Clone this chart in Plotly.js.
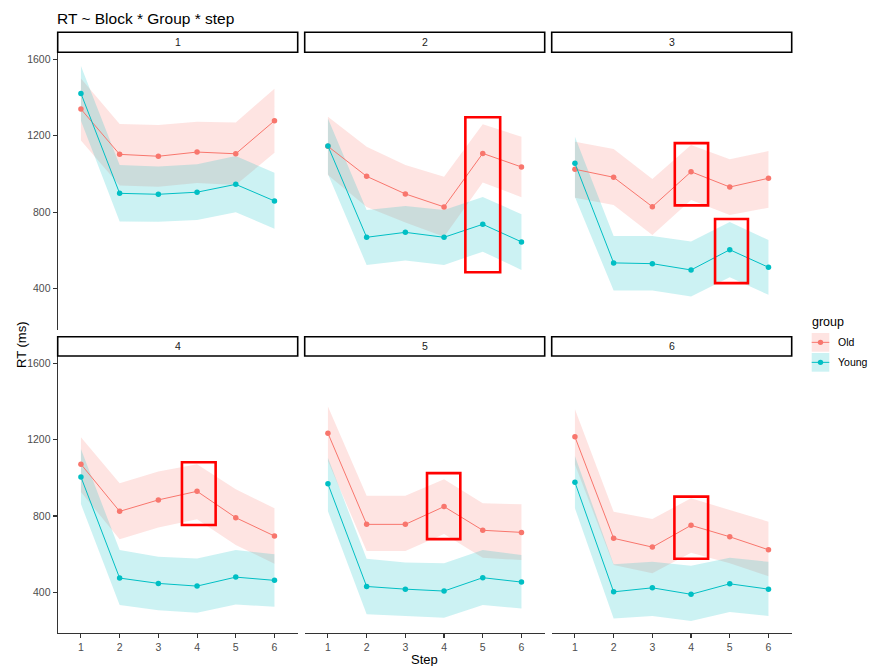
<!DOCTYPE html>
<html>
<head>
<meta charset="utf-8">
<script src="https://cdn.plot.ly/plotly-3.0.1.min.js"></script>
<style>
html,body{margin:0;padding:0;background:#fff;}
#chart{width:869px;height:666px;}
</style>
</head>
<body>
<div id="chart"></div>
<script>
// ---- data ----
const steps = [1, 2, 3, 4, 5, 6];
const stepLabels = ['1', '2', '3', '4', '5', '6'];
const blocks = ['1', '2', '3', '4', '5', '6'];
const groups = ['Old', 'Young'];

const oldMean = [
  [1340, 1103, 1093, 1115, 1106, 1279],
  [1145, 988, 896, 828, 1108, 1037],
  [1025, 983, 829, 1012, 932, 978],
  [1071, 824, 884, 929, 791, 695],
  [1233, 756, 756, 849, 725, 714],
  [1214, 683, 637, 751, 691, 623]
];
const oldLo = [
  [1175, 940, 933, 953, 942, 1112],
  [995, 828, 746, 672, 956, 879],
  [876, 838, 681, 864, 786, 824],
  [925, 678, 739, 783, 648, 550],
  [1088, 616, 616, 706, 581, 569],
  [1069, 543, 500, 608, 552, 485]
];
const oldHi = [
  [1500, 1262, 1256, 1274, 1270, 1446],
  [1300, 1143, 1047, 986, 1260, 1195],
  [1169, 1131, 974, 1152, 1077, 1120],
  [1212, 971, 1032, 1071, 940, 840],
  [1373, 906, 906, 992, 866, 861],
  [1359, 822, 784, 893, 831, 770]
];
const youngMean = [
  [1422, 899, 894, 905, 946, 859],
  [1147, 669, 695, 669, 737, 645],
  [1056, 535, 531, 498, 604, 512],
  [1004, 475, 447, 433, 480, 463],
  [968, 431, 417, 407, 477, 454],
  [976, 403, 424, 390, 445, 417]
];
const youngLo = [
  [1279, 751, 750, 760, 800, 714],
  [1000, 524, 547, 524, 594, 498],
  [880, 390, 390, 359, 460, 368],
  [862, 334, 307, 293, 337, 325],
  [825, 286, 276, 267, 334, 316],
  [840, 264, 277, 250, 298, 277]
];
const youngHi = [
  [1565, 1047, 1040, 1051, 1094, 1007],
  [1291, 812, 833, 812, 880, 790],
  [1195, 676, 676, 647, 749, 655],
  [1150, 622, 587, 578, 622, 600],
  [1105, 576, 557, 552, 622, 596],
  [1114, 547, 560, 539, 581, 560]
];
// highlighted regions (block index, step span, RT span)
const hlBlock = [2, 3, 3, 4, 5, 6];
const hlStep0 = [4.55, 3.58, 4.62, 3.61, 3.56, 3.57];
const hlStep1 = [5.45, 4.44, 5.47, 4.48, 4.42, 4.44];
const hlRT0 = [486, 836, 429, 753, 679, 576];
const hlRT1 = [1297, 1162, 765, 1081, 1024, 901];

// ---- styling ----
const FONT = 'Liberation Sans, Arial, sans-serif';
const colors = {Old: '#F8766D', Young: '#00BFC4'};
const fills = {Old: 'rgba(248,118,109,0.2)', Young: 'rgba(0,191,196,0.2)'};
const W = 869, H = 666;
const colPx = [[57.7, 297.7], [304.7, 544.7], [551.7, 791.7]];
const rowPx = [[52.3, 329.6], [356, 633.3]];
const stripPx = [[32.3, 52.3], [336.7, 356]];

const series = {
  Old: {mean: oldMean, lo: oldLo, hi: oldHi},
  Young: {mean: youngMean, lo: youngLo, hi: youngHi}
};

const traces = [];
blocks.forEach((b, i) => {
  const ax = i === 0 ? '' : String(i + 1);
  groups.forEach(g => {
    const s = series[g];
    traces.push({
      x: steps.concat(steps.slice().reverse()),
      y: s.hi[i].concat(s.lo[i].slice().reverse()),
      xaxis: 'x' + ax, yaxis: 'y' + ax,
      type: 'scatter', mode: 'lines', fill: 'toself',
      fillcolor: fills[g], line: {width: 0, color: 'rgba(0,0,0,0)'},
      hoverinfo: 'skip', showlegend: false
    });
  });
  groups.forEach(g => {
    const s = series[g];
    traces.push({
      x: steps, y: s.mean[i],
      xaxis: 'x' + ax, yaxis: 'y' + ax,
      type: 'scatter', mode: 'lines+markers', name: g,
      line: {color: colors[g], width: 1},
      marker: {color: colors[g], size: 5.5},
      showlegend: false
    });
  });
});

const layout = {
  width: W, height: H,
  margin: {l: 0, r: 0, t: 0, b: 0},
  paper_bgcolor: '#fff', plot_bgcolor: 'rgba(0,0,0,0)',
  font: {family: FONT, color: '#000'},
  showlegend: false,
  title: {text: 'RT ~ Block * Group * step', x: 57 / W, xanchor: 'left', xref: 'paper',
          y: 1 - 18.5 / H, yanchor: 'middle', yref: 'paper', font: {size: 15.5, family: FONT, color: '#000'}},
  shapes: [],
  annotations: []
};

blocks.forEach((b, i) => {
  const ax = i === 0 ? '' : String(i + 1);
  const col = i % 3, row = Math.floor(i / 3);
  const xd = [colPx[col][0] / W, colPx[col][1] / W];
  const yd = [1 - rowPx[row][1] / H, 1 - rowPx[row][0] / H];
  const bottom = row === 1, left = col === 0;
  layout['xaxis' + ax] = {
    domain: xd, anchor: 'y' + ax, range: [0.4, 6.6],
    tickvals: steps, ticktext: stepLabels,
    showgrid: false, zeroline: false,
    showline: bottom, linecolor: '#333', linewidth: 1.1,
    ticks: bottom ? 'outside' : '', ticklen: 4, tickwidth: 1.1, tickcolor: '#333',
    showticklabels: bottom, tickfont: {size: 10.5, color: '#4D4D4D', family: FONT}
  };
  layout['yaxis' + ax] = {
    domain: yd, anchor: 'x' + ax, range: [186, 1637],
    tickvals: [400, 800, 1200, 1600],
    showgrid: false, zeroline: false,
    showline: left, linecolor: '#333', linewidth: 1.1,
    ticks: left ? 'outside' : '', ticklen: 4, tickwidth: 1.1, tickcolor: '#333',
    showticklabels: left, tickfont: {size: 10.5, color: '#4D4D4D', family: FONT}
  };
  // strip
  layout.shapes.push({
    type: 'rect', xref: 'paper', yref: 'paper',
    x0: xd[0], x1: xd[1], y0: 1 - stripPx[row][1] / H, y1: 1 - stripPx[row][0] / H,
    fillcolor: '#fff', line: {color: '#000', width: 1.6}, layer: 'above'
  });
  layout.annotations.push({
    xref: 'paper', yref: 'paper', x: (xd[0] + xd[1]) / 2,
    y: 1 - (stripPx[row][0] + stripPx[row][1]) / 2 / H,
    text: b, showarrow: false, xanchor: 'center', yanchor: 'middle',
    font: {size: 10.5, color: '#1A1A1A', family: FONT}
  });
});

// highlight boxes
hlBlock.forEach((b, k) => {
  const ax = b === 1 ? '' : String(b);
  layout.shapes.push({
    type: 'rect', xref: 'x' + ax, yref: 'y' + ax,
    x0: hlStep0[k], x1: hlStep1[k], y0: hlRT0[k], y1: hlRT1[k],
    line: {color: '#FF0000', width: 2.6}, fillcolor: 'rgba(0,0,0,0)', layer: 'above'
  });
});

// axis titles
layout.annotations.push({
  xref: 'paper', yref: 'paper', x: 21 / W, y: 1 - 345 / H, text: 'RT (ms)',
  textangle: -90, showarrow: false, xanchor: 'center', yanchor: 'middle',
  font: {size: 13, color: '#000', family: FONT}
});
layout.annotations.push({
  xref: 'paper', yref: 'paper', x: 424.7 / W, y: 1 - 659 / H, text: 'Step',
  showarrow: false, xanchor: 'center', yanchor: 'middle',
  font: {size: 13, color: '#000', family: FONT}
});

// legend (drawn by hand to match ggplot keys)
layout.annotations.push({
  xref: 'paper', yref: 'paper', x: 810 / W, y: 1 - 321.7 / H, text: 'group',
  showarrow: false, xanchor: 'left', yanchor: 'middle',
  font: {size: 12.5, color: '#000', family: FONT}
});
const keyTop = [333, 353];
groups.forEach((g, k) => {
  const y0 = keyTop[k], y1 = keyTop[k] + 18.7, yc = (y0 + y1) / 2;
  const x0 = 811.7, x1 = 829.3, xc = (x0 + x1) / 2;
  layout.shapes.push({type: 'rect', xref: 'paper', yref: 'paper',
    x0: x0 / W, x1: x1 / W, y0: 1 - y1 / H, y1: 1 - y0 / H,
    fillcolor: fills[g], line: {width: 0}});
  layout.shapes.push({type: 'line', xref: 'paper', yref: 'paper',
    x0: x0 / W, x1: x1 / W, y0: 1 - yc / H, y1: 1 - yc / H,
    line: {color: colors[g], width: 1}});
  layout.shapes.push({type: 'circle', xref: 'paper', yref: 'paper',
    x0: (xc - 2.7) / W, x1: (xc + 2.7) / W, y0: 1 - (yc + 2.7) / H, y1: 1 - (yc - 2.7) / H,
    fillcolor: colors[g], line: {width: 0}});
  layout.annotations.push({
    xref: 'paper', yref: 'paper', x: 836 / W, y: 1 - yc / H, text: g,
    showarrow: false, xanchor: 'left', yanchor: 'middle',
    font: {size: 10.5, color: '#000', family: FONT}
  });
});

Plotly.newPlot('chart', traces, layout, {displayModeBar: false, staticPlot: true});
</script>
</body>
</html>
